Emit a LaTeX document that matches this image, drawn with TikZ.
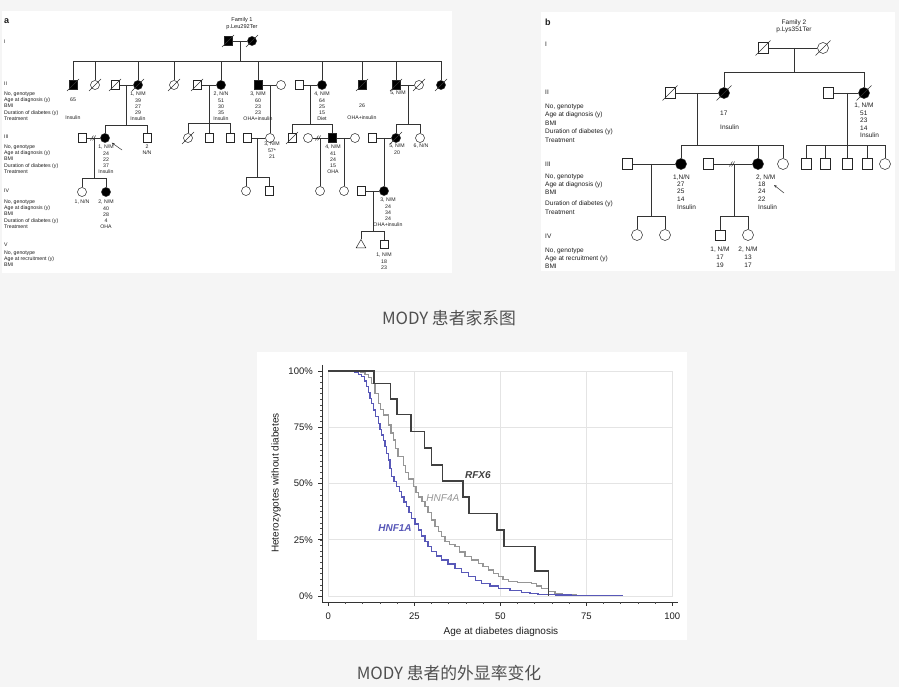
\documentclass[tikz,border=0pt]{standalone}
\usepackage{fontspec}
\setmainfont{Liberation Sans}
\newfontfamily\cjk{Noto Sans CJK SC}
\usetikzlibrary{calc,shapes.geometric,arrows.meta}
\definecolor{bgc}{RGB}{245,245,245}
\definecolor{ink}{RGB}{30,30,30}
\definecolor{capc}{RGB}{80,80,80}
\definecolor{rfx}{RGB}{64,64,64}
\definecolor{hnff}{RGB}{150,150,150}
\definecolor{hnfo}{RGB}{88,88,184}
\definecolor{gridc}{RGB}{228,228,228}
\tikzset{
  ln/.style={line width=0.5pt, draw=black!80},
  sqa/.style={draw=black!85, line width=0.5pt, rectangle, minimum size=8.5pt, inner sep=0pt, fill=white},
  cia/.style={draw=black!85, line width=0.5pt, circle, minimum size=9pt, inner sep=0pt, fill=white},
  sqb/.style={sqa, minimum size=10.5pt},
  cib/.style={cia, minimum size=11pt},
  aff/.style={fill=black},
  ta/.style={font=\fontsize{5.2}{6.1}\selectfont, align=center, anchor=north, inner sep=0pt, text=ink},
  tla/.style={font=\fontsize{5.2}{6.1}\selectfont, align=left, anchor=north west, inner sep=0pt, text=ink},
  tra/.style={font=\fontsize{5.2}{6.1}\selectfont, anchor=west, inner sep=0pt, text=ink},
  tb/.style={font=\fontsize{6.5}{7.6}\selectfont, align=center, anchor=north, inner sep=0pt, text=ink},
  tbl/.style={font=\fontsize{6.5}{7.6}\selectfont, align=left, anchor=north west, inner sep=0pt, text=ink},
  trb/.style={font=\fontsize{6.5}{7.6}\selectfont, anchor=west, inner sep=0pt, text=ink},
  panl/.style={font=\bfseries\fontsize{9}{10}\selectfont, anchor=west, inner sep=0pt, text=ink},
  arr/.style={line width=0.5pt, draw=black!80, -{Stealth[length=3pt,width=2.4pt]}},
  capt/.style={font=\cjk\fontsize{16.8}{20}\selectfont, text=capc, inner sep=0pt},
  ctick/.style={font=\fontsize{9.5}{11}\selectfont, text=ink, inner sep=0pt},
  axl/.style={line width=0.9pt, draw=black!80},
}
\newcommand{\pdslash}[2]{\draw[ln] ($(#1.center)+(-#2,#2)$) -- ($(#1.center)+(#2,-#2)$);}
\newcommand{\pdivide}[1]{\draw[ln] ($(#1)+(-2.6,2.4)$) -- ($(#1)+(0.4,-2.4)$); \draw[ln] ($(#1)+(-0.4,2.4)$) -- ($(#1)+(2.6,-2.4)$);}
\begin{document}
\begin{tikzpicture}[x=1pt,y=-1pt]
\useasboundingbox (0,0) rectangle (899,687);
\fill[bgc] (0,0) rectangle (899,687);
\fill[white] (2,11) rectangle (452,273);
\fill[white] (541,12) rectangle (895,271);
\fill[white] (257,352) rectangle (687,640);

%% ================= PANEL A =================
\node[panl] (pa) at (4,21) {a};
\node[tra] (rI) at (4,42) {I};
\node[tra] (rII) at (4,84) {II};
\node[tra] (rIII) at (4,137) {III};
\node[tra] (rIV) at (4,191) {IV};
\node[tra] (rV) at (4,245) {V};
\node[tla] (lab2) at (4,92) {No, genotype\\Age at diagnosis (y)\\BMI\\Duration of diabetes (y)\\Treatment};
\node[tla] (lab3) at (4,145) {No, genotype\\Age at diagnosis (y)\\BMI\\Duration of diabetes (y)\\Treatment};
\node[tla] (lab4) at (4,200) {No, genotype\\Age at diagnosis (y)\\BMI\\Duration of diabetes (y)\\Treatment};
\node[tla] (lab5) at (4,251) {No, genotype\\Age at recruitment (y)\\BMI};
\node[ta, font=\fontsize{5.6}{6.8}\selectfont] (fam1) at (242,17) {Family 1\\p.Leu292Ter};

% Gen I
\node[sqa,aff] (A1) at (228,41) {};
\node[cia,aff] (A2) at (252,41) {};
% Gen II
\node[sqa,aff] (B1) at (73,85) {};
\node[cia] (B2) at (95,85) {};
\node[sqa] (B3) at (115,85) {};
\node[cia,aff] (B4) at (138,85) {};
\node[cia] (B5) at (174,85) {};
\node[sqa] (B6) at (197,85) {};
\node[cia,aff] (B7) at (221,85) {};
\node[sqa,aff] (B8) at (258,85) {};
\node[cia] (B9) at (281,85) {};
\node[sqa] (B10) at (299,85) {};
\node[cia,aff] (B11) at (322,85) {};
\node[sqa,aff] (B12) at (362,85) {};
\node[sqa,aff] (B13) at (396,85) {};
\node[cia] (B14) at (419,85) {};
\node[cia,aff] (B15) at (441,85) {};
% Gen III
\node[sqa] (C1) at (82,138) {};
\node[cia,aff] (C2) at (105,138) {};
\node[sqa] (C3) at (147,138) {};
\node[cia] (C4) at (188,138) {};
\node[sqa] (C5) at (209,138) {};
\node[sqa] (C6) at (230,138) {};
\node[sqa] (C7) at (247,138) {};
\node[cia] (C8) at (270,138) {};
\node[sqa] (C9) at (292,138) {};
\node[cia] (C10) at (308,138) {};
\node[sqa,aff] (C11) at (332,138) {};
\node[cia] (C12) at (355,138) {};
\node[sqa] (C13) at (372,138) {};
\node[cia,aff] (C14) at (396,138) {};
\node[cia] (C15) at (420,138) {};
% Gen IV
\node[cia] (D1) at (82,192) {};
\node[cia,aff] (D2) at (106,192) {};
\node[cia] (D3) at (246,191) {};
\node[sqa] (D4) at (269,191) {};
\node[cia] (D5) at (320,191) {};
\node[cia] (D6) at (344,191) {};
\node[sqa] (D7) at (361,191) {};
\node[cia,aff] (D8) at (384,191) {};
% Gen V
\node[draw=black!85, line width=0.5pt, regular polygon, regular polygon sides=3, minimum size=11pt, inner sep=0pt, fill=white] (E1) at (361,245) {};
\node[sqa] (E2) at (384,244) {};

% deceased slashes
\foreach \n in {A1,A2,B1,B2,B3,B4,B5,B6,B12,B13,B14,B15,C4,C9,C14} {\pdslash{\n}{6}}

% couples & descent, panel a
\draw[ln] (A1) -- (A2);
\coordinate (dA) at (240,41); \coordinate (sA) at (240,61);
\draw[ln] (dA) -- (sA);
\draw[ln] (B1 |- sA) -- (B15 |- sA);
\foreach \n in {B1,B2,B4,B5,B7,B8,B11,B12,B13,B15} {\draw[ln] (\n.north) -- (\n |- sA);}

\draw[ln] (B3) -- (B4);
\coordinate (d34) at (126,85); \coordinate (s34) at (126,125);
\draw[ln] (d34) -- (s34);
\draw[ln] (C2.north) -- (C2 |- s34) -- (C3 |- s34) -- (C3.north);

\draw[ln] (B6) -- (B7);
\coordinate (d67) at (209,85); \coordinate (s67) at (209,123);
\draw[ln] (d67) -- (s67);
\draw[ln] (C4.north) -- (C4 |- s67) -- (C6 |- s67) -- (C6.north);
\draw[ln] (C5.north) -- (C5 |- s67);

\draw[ln] (B8) -- (B9);
\coordinate (d89) at (270,85);
\draw[ln] (d89) -- (C8.north);

\draw[ln] (B10) -- (B11);
\coordinate (d1011) at (310,85); \coordinate (s1011) at (310,124);
\draw[ln] (d1011) -- (s1011);
\draw[ln] (C9.north) -- (C9 |- s1011) -- (C11 |- s1011) -- (C11.north);

\draw[ln] (B13) -- (B14);
\coordinate (d1314) at (408,85); \coordinate (s1314) at (408,124);
\draw[ln] (d1314) -- (s1314);
\draw[ln] (C14.north) -- (C14 |- s1314) -- (C15 |- s1314) -- (C15.north);

\draw[ln] (C1) -- (C2);
\coordinate (dv1) at (93,138); \pdivide{dv1}
\coordinate (d12) at (94,138); \coordinate (s12) at (94,178);
\draw[ln] (d12) -- (s12);
\draw[ln] (D1.north) -- (D1 |- s12) -- (D2 |- s12) -- (D2.north);

\draw[ln] (C7) -- (C8);
\coordinate (d78) at (257,138); \coordinate (s78) at (257,177);
\draw[ln] (d78) -- (s78);
\draw[ln] (D3.north) -- (D3 |- s78) -- (D4 |- s78) -- (D4.north);

\draw[ln] (C10) -- (C11);
\coordinate (dv2) at (318,138); \pdivide{dv2}
\coordinate (d1011b) at (320,138);
\draw[ln] (d1011b) -- (D5.north);
\draw[ln] (C11) -- (C12);
\coordinate (d1112) at (344,138);
\draw[ln] (d1112) -- (D6.north);

\draw[ln] (C13) -- (C14);
\coordinate (d1314b) at (384,138);
\draw[ln] (d1314b) -- (D8.north);

\draw[ln] (D7) -- (D8);
\coordinate (d78b) at (373,191); \coordinate (s78b) at (373,231);
\draw[ln] (d78b) -- (s78b);
\draw[ln] (E1.north) -- (E1 |- s78b) -- (E2 |- s78b) -- (E2.north);

% texts panel a
\node[ta] (t65) at (73,98) {65};
\node[ta] (tins1) at (73,116) {Insulin};
\node[ta] (tB4) at (138,92) {1, N/M\\39\\27\\29\\Insulin};
\node[ta] (tB7) at (221,92) {2, N/N\\51\\30\\35\\Insulin};
\node[ta] (tB8) at (258,92) {3, N/M\\60\\23\\23\\OHA+insulin};
\node[ta] (tB11) at (322,92) {4, N/M\\64\\25\\15\\Diet};
\node[ta] (tB12) at (362,104) {26};
\node[ta] (tB12b) at (362,116) {OHA+insulin};
\node[ta] (tB13) at (398,91) {5, N/M};
\node[ta] (tC2) at (106,145) {1, N/M\\24\\22\\37\\Insulin};
\node[ta] (tC3) at (147,145) {2\\N/N};
\node[ta] (tC8) at (272,142) {3, N/M\\57*\\21};
\node[ta] (tC11) at (333,145) {4, N/M\\41\\24\\15\\OHA};
\node[ta] (tC14) at (397,144) {5, N/M\\20};
\node[ta] (tC15) at (421,144) {6, N/N};
\node[ta] (tD1) at (82,200) {1, N/N};
\node[ta] (tD2) at (106,200) {2, N/M\\40\\28\\4\\OHA};
\node[ta] (tD8) at (388,198) {3, N/M\\24\\34\\24\\OHA+insulin};
\node[ta] (tE2) at (384,253) {1, N/M\\18\\23};
\coordinate (arA) at (122,150);
\draw[arr, shorten >=3.5pt] (arA) -- (C2);

%% ================= PANEL B =================
\node[panl] (pb) at (545,22) {b};
\node[trb] (sI) at (545,44) {I};
\node[trb] (sII) at (545,92) {II};
\node[trb] (sIII) at (545,164) {III};
\node[trb] (sIV) at (545,236) {IV};
\node[tbl, font=\fontsize{6.5}{8.5}\selectfont] (mb2) at (545,103.6) {No, genotype\\Age at diagnosis (y)\\BMI\\Duration of diabetes (y)\\Treatment};
\node[tbl] (mb3) at (545,174.3) {No, genotype\\Age at diagnosis (y)\\BMI};
\node[tbl, font=\fontsize{6.5}{8.5}\selectfont] (mb3b) at (545,200.8) {Duration of diabetes (y)\\Treatment};
\node[tbl, font=\fontsize{6.5}{8}\selectfont] (mb4) at (545,247.6) {No, genotype\\Age at recruitment (y)\\BMI};
\node[tb, font=\fontsize{6.5}{7.3}\selectfont] (fam2) at (794,19.6) {Family 2\\p.Lys351Ter};

\node[sqb] (F1) at (763,48) {};
\node[cib] (F2) at (823,48) {};
\node[sqb] (G1) at (670,93) {};
\node[cib,aff] (G2) at (724,93) {};
\node[sqb] (G3) at (828,93) {};
\node[cib,aff] (G4) at (864,93) {};
\node[sqb] (H1) at (627,164) {};
\node[cib,aff] (H2) at (681,164) {};
\node[sqb] (H3) at (708,164) {};
\node[cib,aff] (H5) at (758,164) {};
\node[cib] (H6) at (783,164) {};
\node[sqb] (H7) at (806,164) {};
\node[sqb] (H8) at (825,164) {};
\node[sqb] (H9) at (847,164) {};
\node[sqb] (H10) at (867,164) {};
\node[cib] (H11) at (885,164) {};
\node[cib] (I1) at (637,235) {};
\node[cib] (I2) at (665,235) {};
\node[sqb] (I3) at (720,235) {};
\node[cib] (I4) at (748,235) {};
\foreach \n in {F1,F2,G1,G2,G4} {\pdslash{\n}{7.5}}

\draw[ln] (F1) -- (F2);
\coordinate (dF) at (794,48); \coordinate (sF) at (794,72);
\draw[ln] (dF) -- (sF);
\draw[ln] (G2.north) -- (G2 |- sF) -- (G4 |- sF) -- (G4.north);

\draw[ln] (G1) -- (G2);
\coordinate (dG12) at (697,93); \coordinate (sG12) at (697,145);
\draw[ln] (dG12) -- (sG12);
\draw[ln] (H2.north) -- (H2 |- sG12) -- (H6 |- sG12) -- (H6.north);
\draw[ln] (H5.north) -- (H5 |- sG12);

\draw[ln] (G3) -- (G4);
\coordinate (dG34) at (847,93); \coordinate (sG34) at (847,145);
\draw[ln] (dG34) -- (sG34);
\draw[ln] (H7.north) -- (H7 |- sG34) -- (H11 |- sG34) -- (H11.north);
\foreach \n in {H8,H9,H10} {\draw[ln] (\n.north) -- (\n |- sG34);}

\draw[ln] (H1) -- (H2);
\coordinate (dH12) at (651,164); \coordinate (sH12) at (651,216);
\draw[ln] (dH12) -- (sH12);
\draw[ln] (I1.north) -- (I1 |- sH12) -- (I2 |- sH12) -- (I2.north);

\draw[ln] (H3) -- (H5);
\coordinate (dv3) at (732,164); \pdivide{dv3}
\coordinate (dH35) at (734,164); \coordinate (sH35) at (734,216);
\draw[ln] (dH35) -- (sH35);
\draw[ln] (I3.north) -- (I3 |- sH35) -- (I4 |- sH35) -- (I4.north);

\node[tbl] (v17) at (720,110.6) {17};
\node[tbl] (vins) at (720,124.6) {Insulin};
\node[tb] (vG4a) at (864,102.6) {1, N/M};
\node[tbl, font=\fontsize{6.5}{7.5}\selectfont] (vG4b) at (860,110.6) {51\\23\\14\\Insulin};
\node[tbl] (vH2a) at (673,174.3) {1,N/N};
\node[tbl] (vH2b) at (677,181.6) {27\\25\\14\\Insulin};
\node[tbl] (vH5a) at (756,174.3) {2, N/M};
\node[tbl] (vH5b) at (758,181.6) {18\\24\\22\\Insulin};
\node[tb, font=\fontsize{6.5}{8}\selectfont] (vI3) at (720,246.6) {1, N/M\\17\\19};
\node[tb, font=\fontsize{6.5}{8}\selectfont] (vI4) at (748,246.6) {2, N/M\\13\\17};
\coordinate (arB) at (784,193); \coordinate (arBt) at (774,185);
\draw[arr] (arB) -- (arBt);

\node[capt] (cap1) at (449,318) {MODY 患者家系图};
\node[capt] (cap2) at (449,673) {MODY 患者的外显率变化};

%% ================= CHART =================
\begin{scope}[shift={(328.3,596)}, x=3.44pt, y=2.25pt]
  \draw[gridc, line width=0.8pt] (0,0) rectangle (100,100);
  \foreach \v in {25,50,75} {
    \draw[gridc, line width=0.8pt] (\v,0) -- (\v,100);
    \draw[gridc, line width=0.8pt] (0,\v) -- (100,\v);
  }
  \draw[axl] (-1.83,102.7) -- (-1.83,-2.67) -- (101.7,-2.67);
  \foreach \v in {0,2.5,...,100} {\draw[line width=0.5pt, black!70] (-1.83,\v) -- ++(-2pt,0);}
  \foreach \v in {0,5,...,100} {\draw[line width=0.5pt, black!70] (\v,-2.67) -- ++(0,-2pt);}
  \foreach \v in {0,25,50,75,100} {
    \draw[line width=0.8pt, black!80] (-1.83,\v) -- ++(-4pt,0);
    \draw[line width=0.8pt, black!80] (\v,-2.67) -- ++(0,-4pt);
    \node[ctick, anchor=east, name=yl\v] at (-4.45,\v) {\v\%};
    \node[ctick, name=xl\v] at (\v,-8.9) {\v};
  }
  \node[ctick, font=\fontsize{10}{12}\selectfont] (xtitle) at (50.2,-16) {Age at diabetes diagnosis};
  \node[ctick, font=\fontsize{10}{12}\selectfont, rotate=90] (ytitle) at (-15.2,50.2) {Heterozygotes without diabetes};

  \draw[hnff, line width=1.3pt] plot[const plot] coordinates {(0,100) (5,100) (7.8,99.7) (9.5,99.2) (10.7,98.6) (11.6,97) (12.6,94.5) (13.6,90) (14.5,85.6) (15.2,83) (16,80.4) (17.4,76) (18.2,72.5) (18.9,69.3) (19.6,65.5) (20.3,62) (21.8,58) (22.5,55) (23.3,52) (24.7,48.6) (25.5,46) (26.2,44) (27.2,42) (28.1,39.7) (29,37) (30,33.8) (31,31) (32,28.6) (33,26.5) (33.9,24.1) (35.3,23) (36.8,21.9) (38.2,19.6) (39.7,17.5) (41.6,16) (43.6,14.5) (45,13) (46.5,11.6) (48,10) (49.4,8.6) (50.8,7.4) (52.3,6.4) (55,6) (59.1,5.6) (60.5,4.5) (62,3.4) (64,1.9) (65.9,0.9) (68,0.6) (72,0.4)};
  \draw[hnfo, line width=1.3pt] plot[const plot] coordinates {(0,100) (3.9,100) (5.5,99.8) (7.8,99.3) (8.8,98.6) (9.7,97.5) (10.5,95.5) (11.1,93) (11.6,90.5) (12.1,87.9) (12.6,85.5) (13.1,82.7) (13.8,79.7) (14.5,76.7) (15,74) (15.5,71.6) (16,69) (16.5,66.4) (17,63.4) (17.4,60.4) (17.9,56.7) (18.4,53) (19.1,50.8) (19.9,48.6) (20.6,46.3) (21.3,44) (22,41.8) (22.8,39.7) (23.5,37) (24.2,34.5) (25.2,32) (26.2,29.3) (27.1,26.7) (28.1,24.1) (29,22) (30,19.7) (31.4,17.8) (32.9,16) (34.8,14.2) (36.8,12.3) (38.8,10.5) (40.7,8.6) (42.7,7) (44.6,5.6) (47,4.5) (49.4,3.4) (52.8,2.5) (56.2,1.6) (58.6,1.1) (61,0.7) (66,0.4) (70.7,0.2) (78,0.1) (85.8,0.1)};
  \draw[rfx, line width=1.6pt] plot[const plot] coordinates {(0,100) (13.3,94.4) (18.1,87.6) (20,80.6) (24,73.1) (28,65.8) (30,58.3) (33.2,51.1) (39.2,43.9) (40.9,36.6) (49.1,29.3) (51,22) (60,11) (64,0)};

  \node[font=\bfseries\itshape\fontsize{10}{12}\selectfont, text=rfx, inner sep=0pt] (lrfx) at (43.5,53.8) {RFX6};
  \node[font=\itshape\fontsize{10}{12}\selectfont, text=hnff, inner sep=0pt] (lhnf4) at (33.3,43.6) {HNF4A};
  \node[font=\bfseries\itshape\fontsize{10}{12}\selectfont, text=hnfo, inner sep=0pt] (lhnf1) at (19.4,30.2) {HNF1A};
\end{scope}
\end{tikzpicture}
\end{document}
